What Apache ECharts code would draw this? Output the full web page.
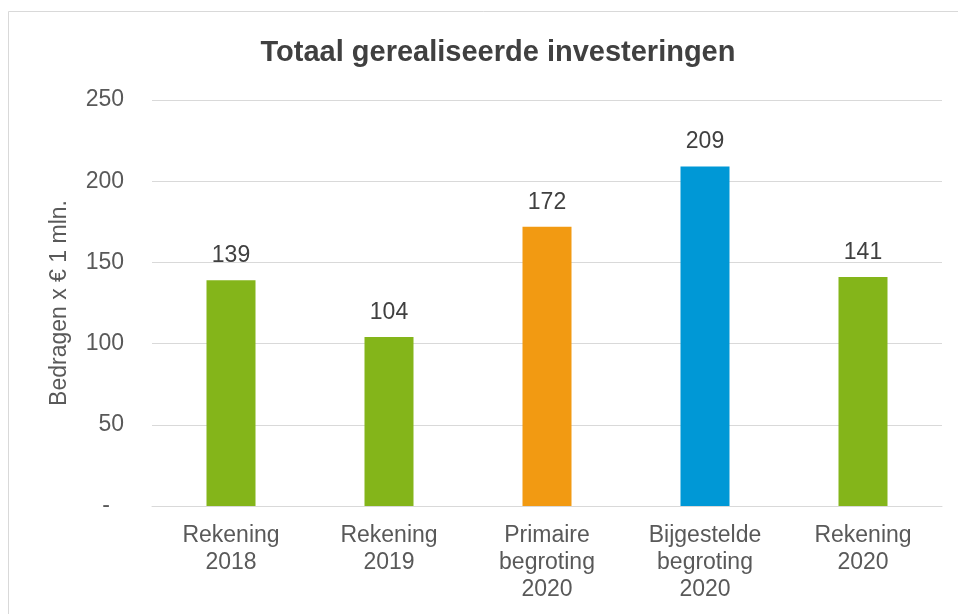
<!DOCTYPE html>
<html>
<head>
<meta charset="utf-8">
<script src="https://cdn.jsdelivr.net/npm/echarts@6/dist/echarts.min.js"></script>
<style>
html,body{margin:0;padding:0;background:#fff;}
#chart{width:958px;height:614px;}
</style>
</head>
<body>
<div id="chart"></div>
<script>
const categories = ['Rekening\n2018', 'Rekening\n2019', 'Primaire\nbegroting\n2020', 'Bijgestelde\nbegroting\n2020', 'Rekening\n2020'];
const values = [139, 104, 172, 209, 141];
const barColors = ['#84B51A', '#84B51A', '#F29A12', '#0098D6', '#84B51A'];
const yTicks = [0, 50, 100, 150, 200, 250];

const chart = echarts.init(document.getElementById('chart'));
chart.setOption({
  animation: false,
  backgroundColor: '#fff',
  graphic: [{
    type: 'rect',
    shape: {x: 8.5, y: 11.5, width: 1000, height: 700},
    style: {fill: 'none', stroke: '#d9d9d9', lineWidth: 1},
    z: -10
  }],
  title: {
    text: 'Totaal gerealiseerde investeringen',
    left: 493, top: 33, textAlign: 'center',
    textStyle: {fontFamily: 'Liberation Sans', fontSize: 29, fontWeight: 'bold', color: '#404040'}
  },
  grid: {left: 152, right: 16, top: 100, bottom: 108, containLabel: false},
  xAxis: {
    type: 'category',
    data: categories,
    axisLine: {lineStyle: {color: '#d9d9d9', width: 1}},
    axisTick: {show: false},
    axisLabel: {fontFamily: 'Liberation Sans', fontSize: 23, color: '#595959', lineHeight: 27, margin: 16}
  },
  yAxis: {
    type: 'value',
    min: 0, max: 250, interval: 50,
    name: 'Bedragen x € 1 mln.',
    nameLocation: 'middle',
    nameGap: 81,
    nameTextStyle: {fontFamily: 'Liberation Sans', fontSize: 23, color: '#595959'},
    axisLine: {show: false},
    axisTick: {show: false},
    splitLine: {lineStyle: {color: '#d9d9d9', width: 1}},
    axisLabel: {
      fontFamily: 'Liberation Sans', fontSize: 23, color: '#595959', margin: 28,
      formatter: function (v) { return yTicks.indexOf(v) === 0 ? '{z|-}' : String(v); },
      rich: {z: {fontFamily: 'Liberation Sans', fontSize: 23, color: '#595959', padding: [0, 14, 0, 0]}}
    }
  },
  series: [{
    type: 'bar',
    barWidth: 49,
    data: values.map(function (v, i) { return {value: v, itemStyle: {color: barColors[i]}}; }),
    label: {show: true, position: 'top', distance: 13, fontFamily: 'Liberation Sans', fontSize: 23, color: '#404040'}
  }]
});
</script>
</body>
</html>
